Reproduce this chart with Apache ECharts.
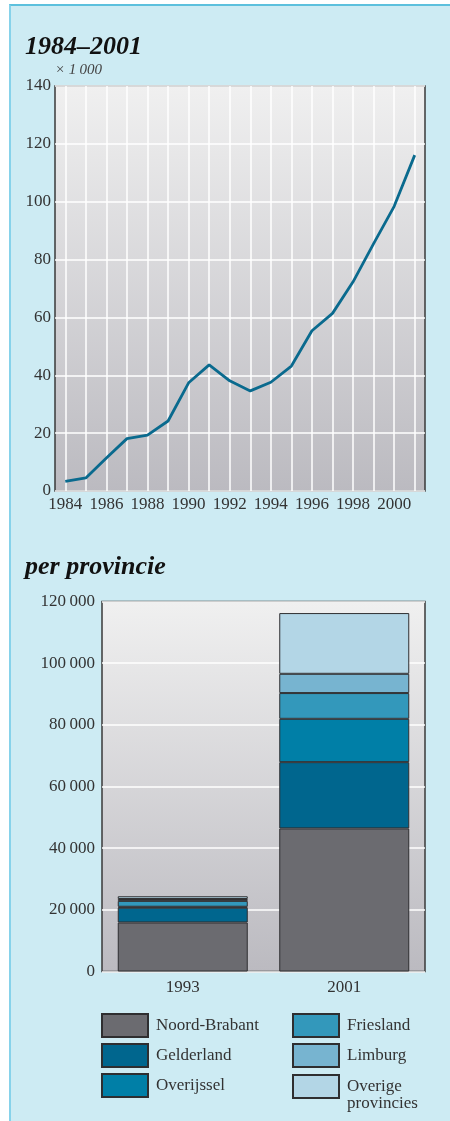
<!DOCTYPE html>
<html>
<head>
<meta charset="utf-8">
<script src="https://cdn.jsdelivr.net/npm/echarts@6/dist/echarts.min.js"></script>
<style>
html,body{margin:0;padding:0;background:#ffffff;overflow:hidden;}
#frame{position:absolute;left:9px;top:4px;width:441px;height:1117px;background:#cdebf3;border-top:2px solid #5cc0dd;border-left:2px solid #86d2ea;box-sizing:border-box;}
#chart{position:absolute;left:0;top:0;width:450px;height:1121px;}
</style>
</head>
<body>
<div id="frame"></div>
<div id="chart"></div>
<script>
// ---- data ----
const years = ['1984','1985','1986','1987','1988','1989','1990','1991','1992','1993','1994','1995','1996','1997','1998','1999','2000','2001'];
const totals = [3.3, 4.5, 11.4, 18.1, 19.3, 24.2, 37.4, 43.6, 38.1, 34.6, 37.6, 43.2, 55.4, 61.4, 72.3, 85.5, 98.4, 116.1];
const lineTicks = [0, 20, 40, 60, 80, 100, 120, 140];

const barYears = ['1993', '2001'];
const provinces = ['Noord-Brabant', 'Gelderland', 'Overijssel', 'Friesland', 'Limburg', 'Overige provincies'];
const noordBrabant = [15900, 46400];
const gelderland = [4800, 21500];
const overijssel = [300, 14050];
const friesland = [1900, 8350];
const limburg = [600, 6250];
const overige = [900, 19700];
const barTicks = [0, 20000, 40000, 60000, 80000, 100000, 120000];

const provColors = ['#6b6b70', '#00668e', '#007fa7', '#3398bb', '#77b4d0', '#b3d6e6'];
const provValues = [noordBrabant, gelderland, overijssel, friesland, limburg, overige];

const serif = '"Liberation Serif", "DejaVu Serif", serif';
const plotBg = new echarts.graphic.LinearGradient(0, 0, 0, 1, [
  {offset: 0, color: '#f0f0f0'},
  {offset: 1, color: '#bbbac0'}
]);

const chart = echarts.init(document.getElementById('chart'), null, {renderer: 'canvas'});

function fmtThousands(v) {
  const s = String(v);
  return s.replace(/\B(?=(\d{3})+(?!\d))/g, '\u2009');
}

const legendText = {fontFamily: serif, fontSize: 17, lineHeight: 17, color: '#333', padding: [0, 0, 0, 3]};
const legendBase = {orient: 'vertical', height: 140, padding: 0, itemWidth: 46, itemHeight: 23, itemGap: 5, icon: 'rect', textStyle: legendText};

const option = {
  animation: false,
  textStyle: {fontFamily: serif},
  title: [
    {text: '1984\u20132001', left: 20, top: 29,
     textStyle: {fontFamily: serif, fontSize: 26, fontWeight: 'bold', fontStyle: 'italic', color: '#111'}},
    {text: 'per provincie', left: 20, top: 549,
     textStyle: {fontFamily: serif, fontSize: 26, fontWeight: 'bold', fontStyle: 'italic', color: '#111'}}
  ],
  grid: [
    {left: 55, top: 86, width: 370, height: 405, show: true, backgroundColor: plotBg, borderColor: '#3a3a3a', borderWidth: 1.5},
    {left: 102, top: 601.5, width: 323, height: 370, show: true, backgroundColor: plotBg, borderColor: '#3a3a3a', borderWidth: 1.5}
  ],
  legend: [
    Object.assign({}, legendBase, {left: 101, top: 1013, data: provinces.slice(0, 3)}),
    Object.assign({}, legendBase, {left: 292, top: 1013, data: provinces.slice(3, 5)}),
    Object.assign({}, legendBase, {left: 292, top: 1061, data: provinces.slice(5),
      formatter: function () { return ' \nOverige\nprovincies'; }})
  ],
  xAxis: [
    {type: 'category', gridIndex: 0, data: years, boundaryGap: true,
     axisLine: {show: false}, axisTick: {show: false},
     axisLabel: {interval: 1, margin: 5, fontFamily: serif, fontSize: 17, color: '#333'},
     splitLine: {show: true, interval: 0, alignWithLabel: true, lineStyle: {color: '#ffffff', width: 1.5}}},
    {type: 'category', gridIndex: 1, data: barYears,
     axisLine: {show: false}, axisTick: {show: false},
     axisLabel: {margin: 8, fontFamily: serif, fontSize: 17, color: '#333'},
     splitLine: {show: false}}
  ],
  yAxis: [
    {type: 'value', gridIndex: 0, min: 0, max: 140, interval: 20,
     name: '\u00d7 1\u2009000', nameLocation: 'end', nameGap: 3,
     nameTextStyle: {fontFamily: serif, fontStyle: 'italic', fontSize: 15, color: '#444', align: 'left'},
     axisLine: {show: false}, axisTick: {show: false},
     axisLabel: {margin: 4, fontFamily: serif, fontSize: 17, color: '#333'},
     splitLine: {show: true, lineStyle: {color: '#ffffff', width: 1.5}}},
    {type: 'value', gridIndex: 1, min: 0, max: 120000, interval: 20000,
     axisLine: {show: false}, axisTick: {show: false},
     axisLabel: {margin: 7, fontFamily: serif, fontSize: 17, color: '#333', formatter: fmtThousands},
     splitLine: {show: true, lineStyle: {color: '#ffffff', width: 1.5}}}
  ],
  series: [
    {type: 'line', xAxisIndex: 0, yAxisIndex: 0, data: totals, symbol: 'none',
     lineStyle: {color: '#0a6a8e', width: 2.8}, itemStyle: {color: '#0a6a8e'}, z: 5}
  ].concat(provinces.map(function (p, i) {
    return {type: 'bar', name: p, xAxisIndex: 1, yAxisIndex: 1, stack: 'prov',
            data: provValues[i], barWidth: 130,
            itemStyle: {color: provColors[i], borderColor: '#2e2e30', borderWidth: 1}};
  }))
};
chart.setOption(option);
</script>
</body>
</html>
